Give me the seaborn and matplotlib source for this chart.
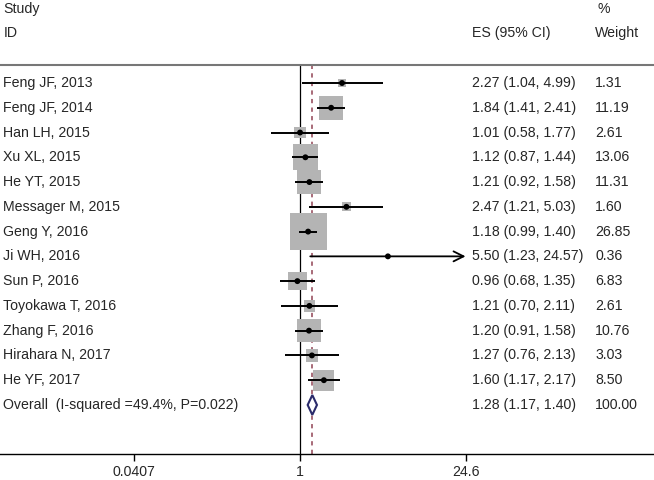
import numpy as np
import matplotlib
matplotlib.use('Agg')
import matplotlib.pyplot as plt
import matplotlib.transforms as mtransforms
import pandas as pd
import seaborn as sns

# Study data
studies = ['Feng JF, 2013', 'Feng JF, 2014', 'Han LH, 2015', 'Xu XL, 2015', 'He YT, 2015',
           'Messager M, 2015', 'Geng Y, 2016', 'Ji WH, 2016', 'Sun P, 2016',
           'Toyokawa T, 2016', 'Zhang F, 2016', 'Hirahara N, 2017', 'He YF, 2017']
es = [2.27, 1.84, 1.01, 1.12, 1.21, 2.47, 1.18, 5.50, 0.96, 1.21, 1.20, 1.27, 1.60]
ci_lo = [1.04, 1.41, 0.58, 0.87, 0.92, 1.21, 0.99, 1.23, 0.68, 0.70, 0.91, 0.76, 1.17]
ci_hi = [4.99, 2.41, 1.77, 1.44, 1.58, 5.03, 1.40, 24.57, 1.35, 2.11, 1.58, 2.13, 2.17]
weights = [1.31, 11.19, 2.61, 13.06, 11.31, 1.60, 26.85, 0.36, 6.83, 2.61, 10.76, 3.03, 8.50]

overall_label = 'Overall  (I-squared =49.4%, P=0.022)'
overall_es = 1.28
overall_lo = 1.17
overall_hi = 1.40

tick_vals = [0.0407, 1, 24.57]
tick_labels = ['0.0407', '1', '24.6']

df = pd.DataFrame({'study': studies, 'es': es, 'lo': ci_lo, 'hi': ci_hi, 'weight': weights})
df['row'] = np.arange(len(df))
overall_row = len(df)

sns.set_style('white')
plt.rcParams['font.family'] = ['Liberation Sans', 'DejaVu Sans']
fs = 10.2

fig = plt.figure(figsize=(6.54, 4.8), dpi=100)
ax = fig.add_axes([0, 0.0542, 1, 0.8104])
ax.set_xscale('log')
ax.set_xlim(0.0031, 931)
ax.set_ylim(14.98, -0.727)

# reference lines
ax.axvline(1, color='black', lw=0.9, zorder=1)
ax.axvline(overall_es, color='#a86a78', lw=1.4, ls=(0, (2.2, 2.2)), zorder=1)

# weight boxes, area proportional to weight
wmin, wmax = df['weight'].min(), df['weight'].max()
sns.scatterplot(data=df, x='es', y='row', size='weight', size_norm=(wmin, wmax),
                sizes=(26.4 * wmin, 26.4 * wmax), marker='s', color='#b4b4b4',
                edgecolor='none', linewidth=0, legend=False, ax=ax, zorder=2)

# confidence intervals (arrow when beyond the axis range)
xmax_tick = max(tick_vals)
for _, r in df.iterrows():
    if r['hi'] >= xmax_tick:
        ax.annotate('', xy=(r['hi'], r['row']), xytext=(r['lo'], r['row']),
                    arrowprops=dict(arrowstyle='->', color='black', lw=1.3,
                                    mutation_scale=18, shrinkA=0, shrinkB=0), zorder=3)
    else:
        ax.hlines(r['row'], r['lo'], r['hi'], color='black', lw=1.4, zorder=3)

# point estimates
sns.scatterplot(data=df, x='es', y='row', color='black', s=18, edgecolor='none',
                legend=False, ax=ax, zorder=4)

# overall diamond
dh = 0.4
ax.fill([overall_lo, overall_es, overall_hi, overall_es, overall_lo],
        [overall_row, overall_row - dh, overall_row, overall_row + dh, overall_row],
        facecolor='white', edgecolor='#2a2a6a', lw=1.5, zorder=5)

# text columns
trans = mtransforms.blended_transform_factory(ax.transAxes, ax.transData)
x_id, x_es, x_w = 0.005, 0.721, 0.910
for _, r in df.iterrows():
    ax.text(x_id, r['row'], r['study'], transform=trans, fontsize=fs, va='center', ha='left')
    ax.text(x_es, r['row'], f"{r['es']:.2f} ({r['lo']:.2f}, {r['hi']:.2f})",
            transform=trans, fontsize=fs, va='center', ha='left')
    ax.text(x_w, r['row'], f"{r['weight']:.2f}", transform=trans, fontsize=fs,
            va='center', ha='left')
ax.text(x_id, overall_row, overall_label, transform=trans, fontsize=fs, va='center', ha='left')
ax.text(x_es, overall_row, f"{overall_es:.2f} ({overall_lo:.2f}, {overall_hi:.2f})",
        transform=trans, fontsize=fs, va='center', ha='left')
ax.text(x_w, overall_row, '100.00', transform=trans, fontsize=fs, va='center', ha='left')

# headers
ax.text(x_id, -2.99, 'Study', transform=trans, fontsize=fs, va='center', ha='left', clip_on=False)
ax.text(x_id, -2.02, 'ID', transform=trans, fontsize=fs, va='center', ha='left', clip_on=False)
ax.text(x_es, -2.02, 'ES (95% CI)', transform=trans, fontsize=fs, va='center', ha='left', clip_on=False)
ax.text(x_w + 0.003, -2.99, '%', transform=trans, fontsize=fs, va='center', ha='left', clip_on=False)
ax.text(x_w, -2.02, 'Weight', transform=trans, fontsize=fs, va='center', ha='left', clip_on=False)

# axes styling
for side in ['left', 'right']:
    ax.spines[side].set_visible(False)
ax.spines['top'].set_color('#777777')
ax.spines['top'].set_linewidth(1.5)
ax.spines['bottom'].set_color('black')
ax.spines['bottom'].set_linewidth(1.0)
ax.set_yticks([])
ax.set_xticks(tick_vals)
ax.set_xticklabels(tick_labels, fontsize=fs)
ax.xaxis.set_minor_locator(matplotlib.ticker.NullLocator())
ax.tick_params(axis='x', bottom=True, length=5, width=1, color='black', pad=3)
ax.set_xlabel('')
ax.set_ylabel('')

plt.savefig('out.png', dpi=100)
